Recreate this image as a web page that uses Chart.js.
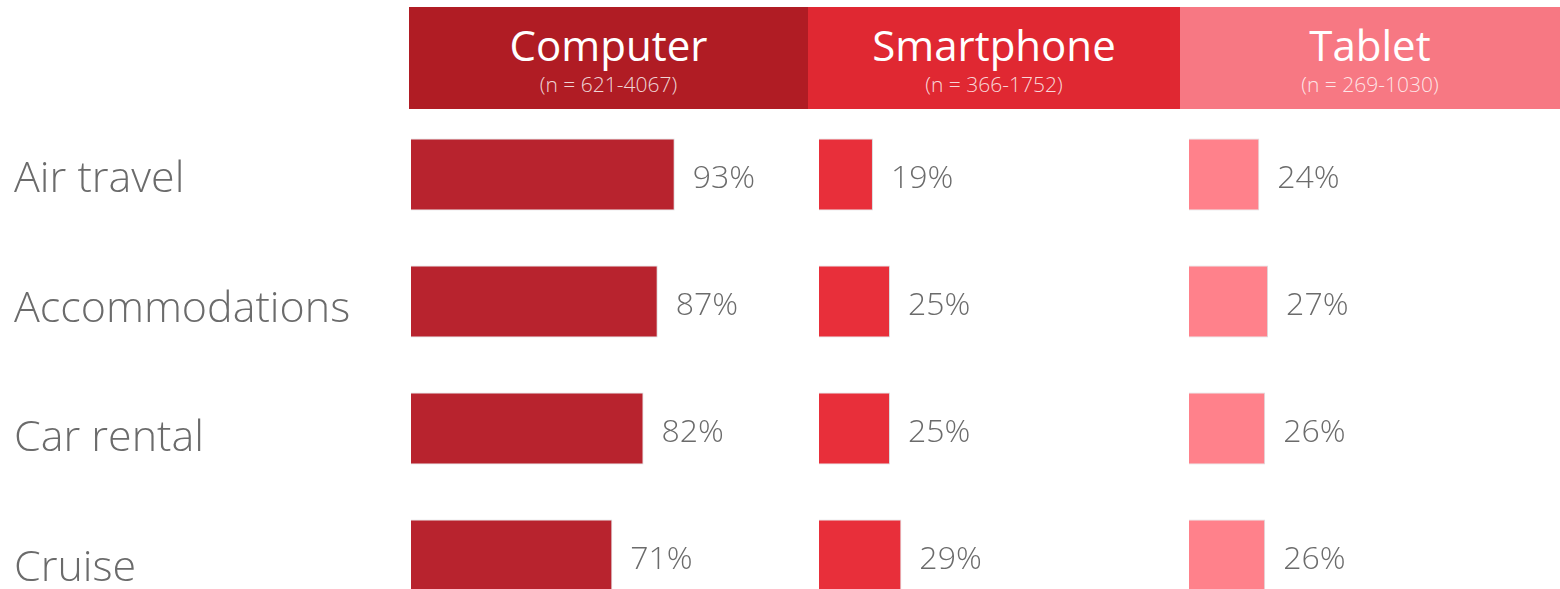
<!DOCTYPE html>
<html lang="en">
<head>
    <meta charset="UTF-8">
    <title>Booking device share</title>
    <script src="https://cdn.jsdelivr.net/npm/chart.js@4.4.1/dist/chart.umd.min.js"></script>
    <style>
        html, body {
            margin: 0;
            padding: 0;
            width: 1560px;
            height: 589px;
            overflow: hidden;
            background: #fff;
            font-family: 'Open Sans', sans-serif;
        }
        .header {
            position: absolute;
            top: 7px;
            height: 102px;
            color: #fff;
            text-align: center;
        }
        .header .title {
            font-size: 42px;
            font-weight: 400;
            line-height: 48px;
            margin-top: 14px;
        }
        .header .sub {
            font-size: 21px;
            font-weight: 300;
            line-height: 24px;
            margin-top: 3px;
            color: rgba(255,255,255,0.82);
        }
        canvas {
            position: absolute;
        }
    </style>
</head>
<body>
    <div class="header" style="left:409px;width:399px;background:#b01c24;">
        <div class="title">Computer</div><div class="sub">(n = 621-4067)</div>
    </div>
    <div class="header" style="left:808px;width:372px;background:#e02832;">
        <div class="title">Smartphone</div><div class="sub">(n = 366-1752)</div>
    </div>
    <div class="header" style="left:1180px;width:380px;background:#f77883;">
        <div class="title">Tablet</div><div class="sub">(n = 269-1030)</div>
    </div>

    <canvas id="labelChart" width="400" height="518" style="left:0px;top:115px;"></canvas>
    <canvas id="computerChart" width="399" height="508" style="left:409px;top:111px;"></canvas>
    <canvas id="smartphoneChart" width="372" height="508" style="left:808px;top:111px;"></canvas>
    <canvas id="tabletChart" width="380" height="508" style="left:1180px;top:111px;"></canvas>

    <script>
        // Data
        const categories = ['Air travel', 'Accommodations', 'Car rental', 'Cruise'];
        const computerValues = [93, 87, 82, 71];
        const smartphoneValues = [19, 25, 25, 29];
        const tabletValues = [24, 27, 26, 26];

        const labelFont = "300 32px 'Open Sans', sans-serif";

        // Percentage text to the right of each bar
        const valueLabels = {
            id: 'valueLabels',
            afterDatasetsDraw(chart) {
                const ctx = chart.ctx;
                const meta = chart.getDatasetMeta(0);
                const values = chart.data.datasets[0].data;
                ctx.save();
                ctx.font = labelFont;
                ctx.fillStyle = '#6b6b6b';
                ctx.textAlign = 'left';
                ctx.textBaseline = 'middle';
                meta.data.forEach((bar, i) => {
                    ctx.fillText(values[i] + '%', bar.x + 18, bar.y + 4);
                });
                ctx.restore();
            }
        };

        function makeChart(id, values, color, max, padLeft) {
            return new Chart(document.getElementById(id), {
                type: 'bar',
                data: {
                    labels: categories,
                    datasets: [{
                        data: values,
                        backgroundColor: color,
                        borderColor: 'rgba(190,190,195,0.55)',
                        borderWidth: 1,
                        barPercentage: 0.567,
                        categoryPercentage: 1.0
                    }]
                },
                options: {
                    indexAxis: 'y',
                    responsive: false,
                    animation: false,
                    layout: { padding: { left: padLeft, right: 0, top: 0, bottom: 0 } },
                    plugins: {
                        legend: { display: false },
                        tooltip: { enabled: false }
                    },
                    scales: {
                        x: { display: false, min: 0, max: max },
                        y: { display: false }
                    }
                },
                plugins: [valueLabels]
            });
        }

        // Category names on the left, spaced a little wider than the bars as in the original
        new Chart(document.getElementById('labelChart'), {
            type: 'bar',
            data: {
                labels: categories,
                datasets: [{ data: categories.map(() => null) }]
            },
            options: {
                indexAxis: 'y',
                responsive: false,
                animation: false,
                layout: { padding: { left: 14, right: 0, top: 0, bottom: 0 } },
                plugins: {
                    legend: { display: false },
                    tooltip: { enabled: false }
                },
                scales: {
                    x: { display: false, min: 0, max: 100 },
                    y: {
                        grid: { display: false },
                        border: { display: false },
                        ticks: {
                            crossAlign: 'far',
                            color: '#6b6b6b',
                            font: { family: "'Open Sans', sans-serif", size: 43, weight: 300 },
                            padding: 0
                        },
                        afterFit(scale) {
                            scale.width = 380;
                            scale.paddingTop = 0;
                            scale.paddingBottom = 0;
                        }
                    }
                }
            }
        });

        makeChart('computerChart', computerValues, '#b8232e', 140, 2);
        makeChart('smartphoneChart', smartphoneValues, '#e82f3a', 127.1, 11);
        makeChart('tabletChart', tabletValues, '#ff818b', 126.6, 9);
    </script>
</body>
</html>
